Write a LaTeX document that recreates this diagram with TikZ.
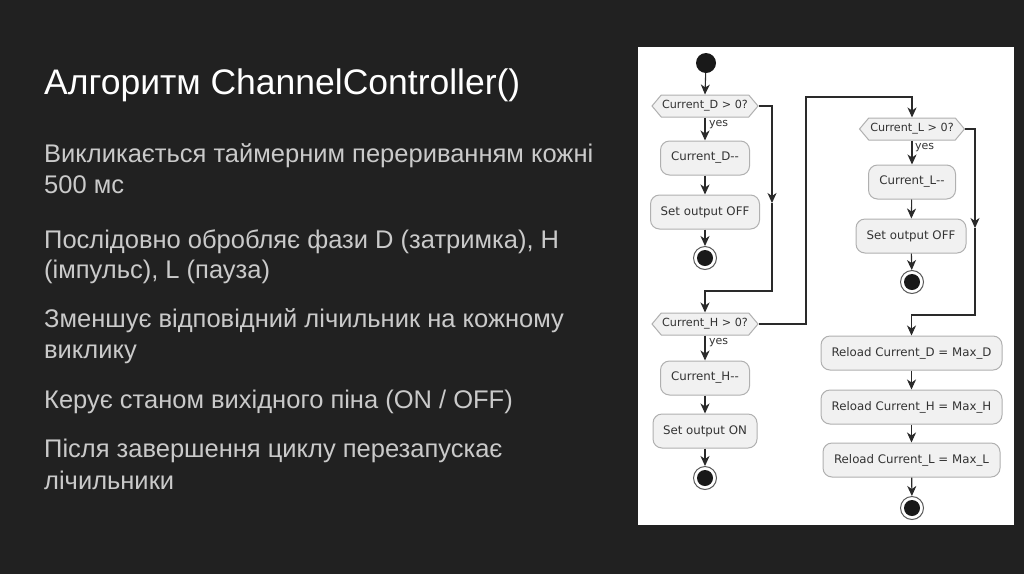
\documentclass[tikz,border=0pt]{standalone}
\usepackage{fontspec}
\setmainfont{Liberation Sans}
\newfontfamily\dejavu{DejaVu Sans}
\usetikzlibrary{arrows.meta,shapes.symbols,shapes.misc}
\definecolor{bgdark}{HTML}{212121}
\definecolor{bodytext}{HTML}{CACACA}
\definecolor{nodefill}{HTML}{F1F1F1}
\definecolor{nodeborder}{HTML}{B0B0B0}
\definecolor{linecol}{HTML}{2A2A2A}
\tikzset{
  titletext/.style={anchor=base west,inner sep=0pt,text=white,font=\fontsize{35.5}{40}\selectfont},
  bodyline/.style={anchor=base west,inner sep=0pt,text=bodytext,font=\fontsize{25.5}{31}\selectfont},
  actbox/.style={rectangle,rounded corners=9pt,draw=nodeborder,fill=nodefill,line width=1pt,
    minimum height=34pt,inner sep=0pt,text=black!80,font=\dejavu\fontsize{11.8}{13}\selectfont},
  hexbox/.style={signal,signal to=west and east,signal pointer angle=100,draw=nodeborder,fill=nodefill,
    line width=1pt,minimum height=22pt,inner sep=0pt,text=black!80,font=\dejavu\fontsize{11.2}{13}\selectfont},
  startdot/.style={circle,fill=black!90,minimum size=20pt,inner sep=0pt},
  enddot/.style={circle,draw=black!65,line width=1pt,fill=white,minimum size=23pt,inner sep=0pt,
    path picture={\fill[black!90] (path picture bounding box.center) circle (8pt);}},
  flow/.style={draw=linecol,line width=1.1pt,-{Stealth[length=10pt,width=9pt,inset=3pt]}},
  yeslab/.style={anchor=west,inner sep=0pt,text=black!80,font=\dejavu\fontsize{11}{12}\selectfont}
}
\begin{document}
\begin{tikzpicture}[x=1pt,y=-1pt]
\useasboundingbox (0,0) rectangle (1024,574);
\fill[bgdark] (0,0) rectangle (1024,574);
\fill[white] (638,47) rectangle (1014,525);

% left text
\node[titletext] (title) at (44,94) {Алгоритм ChannelController()};
\node[bodyline] (b1a) at (44,162) {Викликається таймерним перериванням кожні};
\node[bodyline] (b1b) at (44,193) {500 мс};
\node[bodyline] (b2a) at (44,248) {Послідовно обробляє фази D (затримка), H};
\node[bodyline] (b2b) at (44,278) {(імпульс), L (пауза)};
\node[bodyline] (b3a) at (44,327) {Зменшує відповідний лічильник на кожному};
\node[bodyline] (b3b) at (44,358) {виклику};
\node[bodyline] (b4a) at (44,408) {Керує станом вихідного піна (ON / OFF)};
\node[bodyline] (b5a) at (44,457) {Після завершення циклу перезапускає};
\node[bodyline] (b5b) at (44,489) {лічильники};

% diagram nodes
\node[startdot] (start) at (706,63) {};
\node[hexbox,minimum width=106pt] (hD) at (705,106) {Current\_D > 0?};
\node[actbox,minimum width=89pt] (cD) at (705,158) {Current\_D--};
\node[actbox,minimum width=109pt] (sD) at (705,212) {Set output OFF};
\node[enddot] (eD) at (705,258) {};

\node[hexbox,minimum width=106pt] (hH) at (705,324) {Current\_H > 0?};
\node[actbox,minimum width=89pt] (cH) at (705,378) {Current\_H--};
\node[actbox,minimum width=104pt] (sH) at (705,431) {Set output ON};
\node[enddot] (eH) at (705,478) {};

\node[hexbox,minimum width=105pt] (hL) at (912,129) {Current\_L > 0?};
\node[actbox,minimum width=87pt] (cL) at (912,182) {Current\_L--};
\node[actbox,minimum width=110pt] (sL) at (911,236) {Set output OFF};
\node[enddot] (eL) at (912,282) {};

\node[actbox,minimum width=181pt] (rD) at (911.5,353) {Reload Current\_D = Max\_D};
\node[actbox,minimum width=181pt] (rH) at (911.5,407) {Reload Current\_H = Max\_H};
\node[actbox,minimum width=177pt] (rL) at (911.5,460) {Reload Current\_L = Max\_L};
\node[enddot] (eR) at (912,508) {};

% yes labels
\node[yeslab] (yD) at (709,125) {yes};
\node[yeslab] (yH) at (709,343) {yes};
\node[yeslab] (yL) at (915,148) {yes};

% helper coordinates
\coordinate (dA) at (772,203);
\coordinate (dB) at (772,291);
\coordinate (hA) at (806,97);
\coordinate (lA) at (975,228);
\coordinate (lB) at (975,315);

% straight flows
\draw[flow] (start) -- (hD.north);
\draw[flow] (hD.south) -- (cD.north);
\draw[flow] (cD) -- (sD);
\draw[flow] (sD) -- (eD);
\draw[flow] (hH.south) -- (cH.north);
\draw[flow] (cH) -- (sH);
\draw[flow] (sH) -- (eH);
\draw[flow] (hL.south) -- (cL.north);
\draw[flow] (cL) -- (sL);
\draw[flow] (sL) -- (eL);
\draw[flow] (rD) -- (rH);
\draw[flow] (rH) -- (rL);
\draw[flow] (rL) -- (eR);

% branch flows
\draw[flow] (hD.east) -| (dA);
\draw[flow] (dA) -- (dB) -| (hH.north);
\draw[flow] (hH.east) -| (hA) -| (hL.north);
\draw[flow] (hL.east) -| (lA);
\draw[flow] (lA) -- (lB) -| (rD.north);
\end{tikzpicture}
\end{document}
